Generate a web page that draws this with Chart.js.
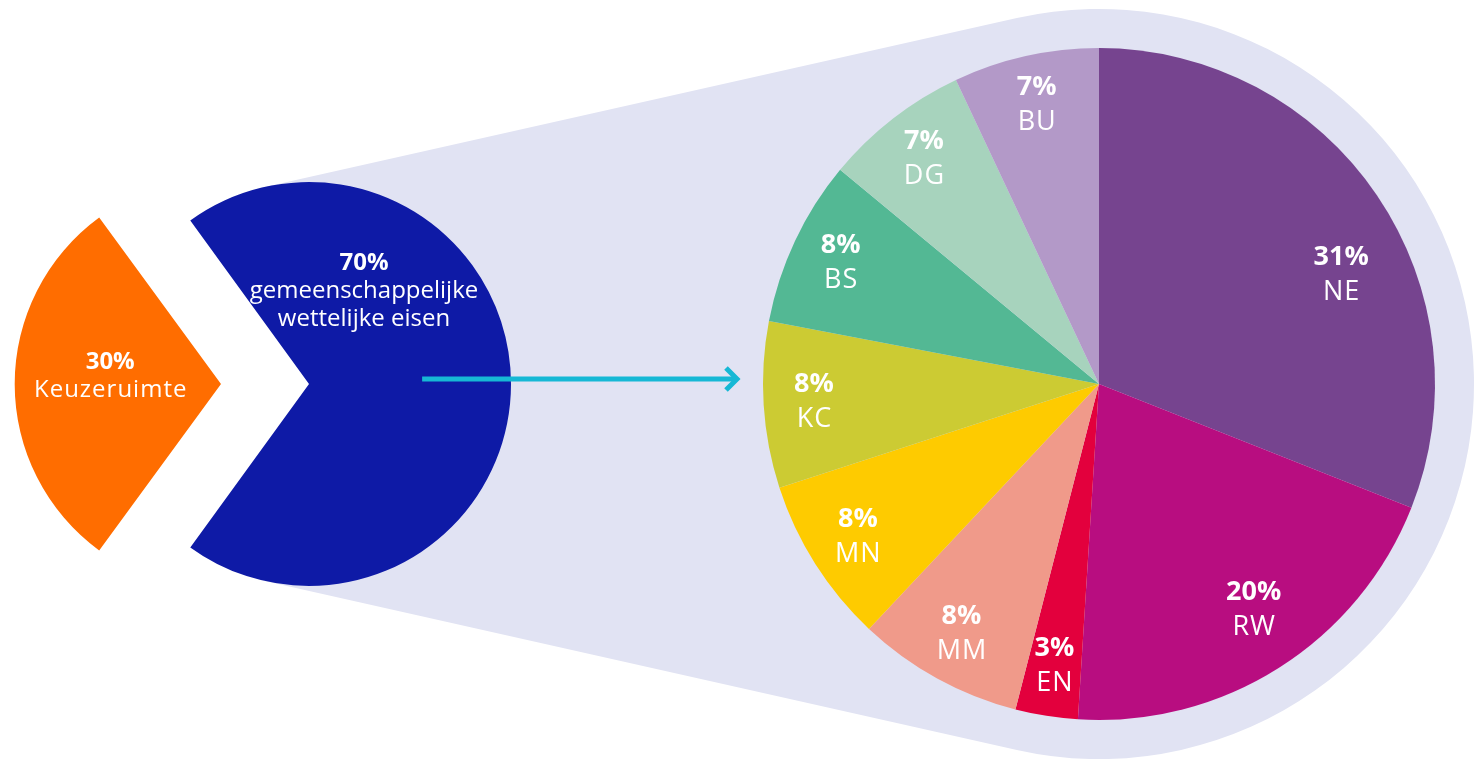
<!DOCTYPE html>
<html>
<head>
<meta charset="utf-8">
<script src="https://cdn.jsdelivr.net/npm/chart.js@4.4.1/dist/chart.umd.min.js"></script>
<style>
  html, body { margin: 0; padding: 0; background: #fff; overflow: hidden; }
  .layer { position: absolute; left: 0; top: 0; width: 1483px; height: 759px; }
</style>
</head>
<body>
<div class="layer"><canvas id="overview"></canvas></div>
<div class="layer"><canvas id="detail"></canvas></div>
<script>
// left pie: split of the programme
const overviewLabels = ['Keuzeruimte', ['gemeenschappelijke', 'wettelijke eisen']];
const overviewValues = [30, 70];
const overviewColors = ['#FF6D00', '#0E1AA6'];

// right pie: breakdown of the 70%
const detailLabels = ['NE', 'RW', 'EN', 'MM', 'MN', 'KC', 'BS', 'DG', 'BU'];
const detailValues = [31, 20, 3, 8, 8, 8, 8, 7, 7];
const detailColors = ['#76448F', '#B80D80', '#E3003D', '#F09A8A', '#FECB00', '#CCCB33', '#53B894', '#A7D3BD', '#B399C8'];

const FONT = "'Open Sans', sans-serif";

// percentage + name written inside each slice
const sliceLabels = {
  id: 'sliceLabels',
  afterDatasetsDraw(chart, args, opts) {
    const ctx = chart.ctx;
    const ds = chart.data.datasets[0];
    const tweaks = opts.tweaks || {};
    ctx.save();
    ctx.fillStyle = '#fff';
    ctx.textAlign = 'center';
    ctx.textBaseline = 'middle';
    chart.getDatasetMeta(0).data.forEach((arc, i) => {
      const p = arc.getProps(['x', 'y', 'startAngle', 'endAngle', 'outerRadius']);
      const t = tweaks[i] || {};
      const a = (p.startAngle + p.endAngle) / 2 + (t.shift || 0) * Math.PI / 180;
      const r = p.outerRadius * (t.r || opts.r);
      const x = p.x + Math.cos(a) * r;
      const y = p.y + Math.sin(a) * r;
      const sp = t.spacing !== undefined ? t.spacing : opts.spacing;
      const lines = [].concat(chart.data.labels[i]);
      const n = lines.length + 1;
      let ly = y - (n - 1) * opts.lineHeight / 2;
      ctx.letterSpacing = '0px';
      ctx.font = 'bold ' + opts.size + 'px ' + FONT;
      ctx.fillText(ds.data[i] + '%', x, ly);
      ctx.font = opts.size + 'px ' + FONT;
      ctx.letterSpacing = sp + 'px';
      lines.forEach(l => {
        ly += opts.lineHeight;
        ctx.fillText(l, x + sp / 2, ly);
      });
    });
    ctx.restore();
  }
};

const detailChart = new Chart(document.getElementById('detail'), {
  type: 'pie',
  data: {
    labels: detailLabels,
    datasets: [{ data: detailValues, backgroundColor: detailColors, borderWidth: 0 }]
  },
  options: {
    responsive: true,
    maintainAspectRatio: false,
    animation: false,
    events: [],
    radius: 336,
    layout: { padding: { left: 715, right: 0, top: 9, bottom: 0 } },
    plugins: {
      legend: { display: false },
      tooltip: { enabled: false },
      sliceLabels: { r: 0.85, size: 27, lineHeight: 35, spacing: 1,
        tweaks: { 0: { r: 0.79, shift: 10 }, 1: { r: 0.815, shift: -2 } } }
    }
  },
  plugins: [sliceLabels]
});

// lavender funnel behind both pies + the arrow between them
const funnel = {
  id: 'funnel',
  beforeDatasetsDraw(chart) {
    const ctx = chart.ctx;
    const a = chart.getDatasetMeta(0).data[1];
    const b = detailChart.getDatasetMeta(0).data[0];
    const ra = a.outerRadius, rb = b.outerRadius + 39;
    const sin = (rb - ra) / (b.x - a.x), cos = Math.sqrt(1 - sin * sin);
    const al = Math.asin(sin);
    ctx.save();
    ctx.fillStyle = '#E1E3F3';
    ctx.beginPath();
    ctx.moveTo(a.x - ra * sin, a.y - ra * cos);
    ctx.lineTo(b.x - rb * sin, b.y - rb * cos);
    ctx.arc(b.x, b.y, rb, -Math.PI / 2 - al, Math.PI / 2 + al, false);
    ctx.lineTo(a.x - ra * sin, a.y + ra * cos);
    ctx.lineTo(a.x + 20, a.y);
    ctx.closePath();
    ctx.fill();
    ctx.restore();
  },
  afterDatasetsDraw(chart) {
    const ctx = chart.ctx;
    const a = chart.getDatasetMeta(0).data[1];
    const b = detailChart.getDatasetMeta(0).data[0];
    const y = a.y - 5;
    const x0 = a.x + a.outerRadius * 0.56;
    const x1 = b.x - b.outerRadius - 23;
    ctx.save();
    ctx.strokeStyle = '#16B8D5';
    ctx.lineWidth = 5;
    ctx.beginPath();
    ctx.moveTo(x0, y);
    ctx.lineTo(x1 - 3, y);
    ctx.stroke();
    ctx.lineJoin = 'miter';
    ctx.beginPath();
    ctx.moveTo(x1 - 14, y - 11);
    ctx.lineTo(x1 - 3, y);
    ctx.lineTo(x1 - 14, y + 11);
    ctx.stroke();
    ctx.restore();
  }
};

const overviewChart = new Chart(document.getElementById('overview'), {
  type: 'pie',
  data: {
    labels: overviewLabels,
    datasets: [{ data: overviewValues, backgroundColor: overviewColors, borderWidth: 0, offset: [352, 0] }]
  },
  options: {
    responsive: true,
    maintainAspectRatio: false,
    animation: false,
    events: [],
    radius: 202,
    rotation: 216,
    layout: { padding: { left: 0, right: 865, top: 9, bottom: 0 } },
    plugins: {
      legend: { display: false },
      tooltip: { enabled: false },
      sliceLabels: { r: 0.98, size: 24, lineHeight: 28, spacing: 1,
        tweaks: { 0: { r: 0.985, shift: 2.3 }, 1: { r: 0.535, shift: -59.4, spacing: 0 } } }
    }
  },
  plugins: [funnel, sliceLabels]
});
</script>
</body>
</html>
